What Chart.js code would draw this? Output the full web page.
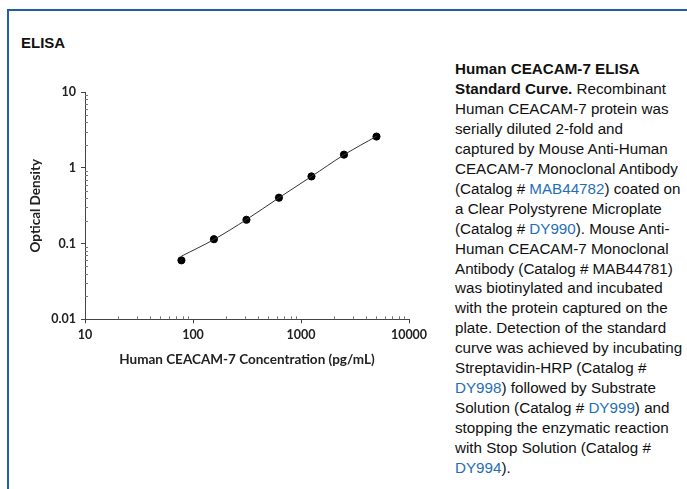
<!DOCTYPE html>
<html>
<head>
<meta charset="utf-8">
<script src="https://cdn.jsdelivr.net/npm/chart.js@4/dist/chart.umd.min.js"></script>
<style>
    body { margin: 0; background: #fff; }
    .frame {
        position: absolute; left: 7px; top: 9px; right: -10px; bottom: -10px;
        border-left: 2px solid #1f5fa6; border-top: 2px solid #1f5fa6;
    }
    .heading {
        position: absolute; left: 21px; top: 34px;
        font: bold 15px "Liberation Sans", Arial, sans-serif; color: #111;
    }
    .chart-box { position: absolute; left: 0; top: 0; width: 440px; height: 380px; }
    .caption {
        position: absolute; left: 455px; top: 59px; width: 232px;
        font: 15.2px/19.95px "Liberation Sans", Arial, sans-serif; color: #111;
        white-space: nowrap;
    }
    .caption b { font-weight: bold; }
    .caption a { color: #1f6fb5; text-decoration: none; }
</style>
</head>
<body>
<div class="frame"></div>
<div class="heading">ELISA</div>
<div class="chart-box"><canvas id="elisaChart"></canvas></div>
<div class="caption">
    <b>Human CEACAM-7 ELISA<br>Standard Curve.</b> Recombinant<br>
    Human CEACAM-7 protein was<br>
    serially diluted 2-fold and<br>
    captured by Mouse Anti-Human<br>
    CEACAM-7 Monoclonal Antibody<br>
    (Catalog # <a>MAB44782</a>) coated on<br>
    a Clear Polystyrene Microplate<br>
    (Catalog # <a>DY990</a>). Mouse Anti-<br>
    Human CEACAM-7 Monoclonal<br>
    Antibody (Catalog # MAB44781)<br>
    was biotinylated and incubated<br>
    with the protein captured on the<br>
    plate. Detection of the standard<br>
    curve was achieved by incubating<br>
    Streptavidin-HRP (Catalog #<br>
    <a>DY998</a>) followed by Substrate<br>
    Solution (Catalog # <a>DY999</a>) and<br>
    stopping the enzymatic reaction<br>
    with Stop Solution (Catalog #<br>
    <a>DY994</a>).
</div>
<script>
const concentrations = [78.125, 156.25, 312.5, 625, 1250, 2500, 5000];
const measuredOD = [0.060, 0.114, 0.206, 0.403, 0.769, 1.49, 2.58];
const fittedOD = [0.068, 0.113, 0.207, 0.402, 0.768, 1.48, 2.60];
const xTicks = [10, 100, 1000, 10000];
const yTicks = [0.01, 0.1, 1, 10];

const tickFont = { family: 'Lato, "Open Sans", sans-serif', size: 12.5, weight: 'bold' };
const titleFont = { family: 'Lato, "Open Sans", sans-serif', size: 13.5, weight: 'bold' };

// minor log ticks, drawn on the inner side of each axis
const minorTicks = {
    id: 'minorTicks',
    afterDraw(chart) {
        const ctx = chart.ctx;
        const xs = chart.scales.x, ys = chart.scales.y;
        ctx.save();
        ctx.strokeStyle = '#777';
        ctx.lineWidth = 1;
        ctx.beginPath();
        for (let d = 10; d < 10000; d *= 10) {
            for (let m = 2; m <= 9; m++) {
                const px = Math.round(xs.getPixelForValue(d * m)) + 0.5;
                ctx.moveTo(px, xs.top);
                ctx.lineTo(px, xs.top - 3);
            }
        }
        for (let d = 0.01; d < 10; d *= 10) {
            for (let m = 2; m <= 9; m++) {
                const py = Math.round(ys.getPixelForValue(d * m)) + 0.5;
                ctx.moveTo(ys.right, py);
                ctx.lineTo(ys.right + 3, py);
            }
        }
        ctx.stroke();
        ctx.restore();
    }
};

new Chart(document.getElementById('elisaChart'), {
    type: 'scatter',
    data: {
        datasets: [
            {
                data: concentrations.map((c, i) => ({ x: c, y: fittedOD[i] })),
                showLine: true,
                borderColor: '#333',
                borderWidth: 1,
                pointRadius: 0,
                cubicInterpolationMode: 'monotone'
            },
            {
                data: concentrations.map((c, i) => ({ x: c, y: measuredOD[i] })),
                backgroundColor: '#000',
                borderColor: '#000',
                pointRadius: 3.6
            }
        ]
    },
    options: {
        responsive: true,
        maintainAspectRatio: false,
        animation: false,
        layout: { padding: { top: 92, right: 31, left: 0, bottom: 0 } },
        plugins: { legend: { display: false }, tooltip: { enabled: false } },
        scales: {
            x: {
                type: 'logarithmic',
                min: 10, max: 10000,
                afterBuildTicks: s => { s.ticks = xTicks.map(v => ({ value: v })); },
                afterFit: s => { s.height = 60.7; },
                border: { color: '#444', width: 1 },
                grid: { drawOnChartArea: false, tickLength: 4, color: '#444' },
                ticks: {
                    color: '#222', font: tickFont, padding: 4, maxRotation: 0,
                    callback: v => String(v)
                },
                title: {
                    display: true, text: 'Human CEACAM-7 Concentration (pg/mL)',
                    color: '#222', font: titleFont, padding: { top: 0, bottom: 12 }
                }
            },
            y: {
                type: 'logarithmic',
                min: 0.01, max: 10,
                afterBuildTicks: s => { s.ticks = yTicks.map(v => ({ value: v })); },
                afterFit: s => { s.width = 85; },
                border: { color: '#444', width: 1 },
                grid: { drawOnChartArea: false, tickLength: 4, color: '#444' },
                ticks: {
                    color: '#222', font: tickFont, padding: 5,
                    callback: v => String(v)
                },
                title: {
                    display: true, text: 'Optical Density',
                    color: '#222', font: titleFont, padding: { top: 28, bottom: 0 }
                }
            }
        }
    },
    plugins: [minorTicks]
});
</script>
</body>
</html>
